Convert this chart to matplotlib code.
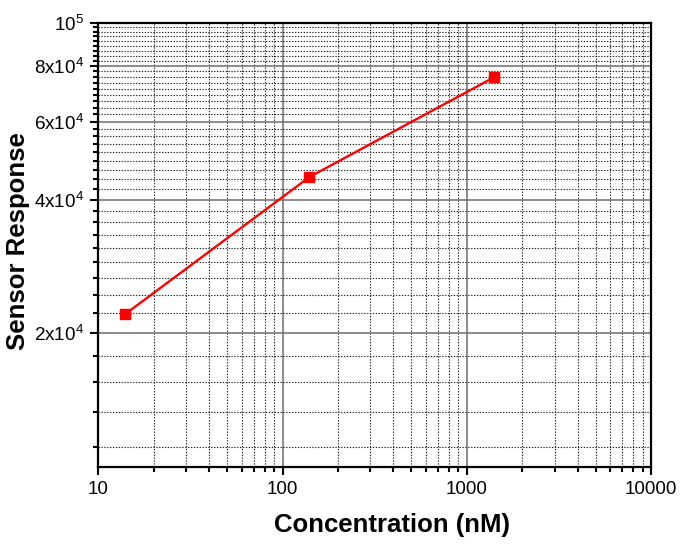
import matplotlib
matplotlib.use("Agg")
import matplotlib.pyplot as plt
from matplotlib.ticker import FixedLocator, MultipleLocator, FuncFormatter, LogLocator, NullFormatter

# data
conc_nM = [14, 140, 1400]
response = [22100, 45000, 75400]

x_ticks = [10, 100, 1000, 10000]
x_tick_labels = ["10", "100", "1000", "10000"]
y_tick_labels = {20000: r"$\mathregular{2x10^4}$", 40000: r"$\mathregular{4x10^4}$",
                 60000: r"$\mathregular{6x10^4}$", 80000: r"$\mathregular{8x10^4}$",
                 100000: r"$\mathregular{10^5}$"}

plt.rcParams["font.family"] = ["Liberation Sans", "DejaVu Sans"]
plt.rcParams["mathtext.fontset"] = "custom"
plt.rcParams["mathtext.rm"] = "Liberation Sans"

fig = plt.figure(figsize=(6.85, 5.45), dpi=100)
ax = fig.add_axes([0.1435, 0.1431, 0.8069, 0.8147])

ax.plot(conc_nM, response, color="#ff0000", lw=1.7, marker="s", ms=7.2,
        mec="#ff0000", mfc="#ff0000", zorder=5, clip_on=False)

ax.set_xscale("log")
ax.set_yscale("log")
ax.set_xlim(10, 10000)
ax.set_ylim(10000, 100000)

ax.xaxis.set_major_locator(FixedLocator(x_ticks))
ax.xaxis.set_major_formatter(FuncFormatter(lambda v, p: x_tick_labels[x_ticks.index(round(v))] if round(v) in x_ticks else ""))
ax.xaxis.set_minor_locator(LogLocator(base=10, subs=range(2, 10)))
ax.xaxis.set_minor_formatter(NullFormatter())

ax.yaxis.set_major_locator(MultipleLocator(20000))
ax.yaxis.set_minor_locator(MultipleLocator(20000 / 9))
ax.yaxis.set_major_formatter(FuncFormatter(lambda v, p: y_tick_labels.get(int(round(v)), "")))
ax.yaxis.set_minor_formatter(NullFormatter())

ax.grid(which="major", color="#6e6e6e", lw=1.1, ls="-", zorder=1)
ax.grid(which="minor", color="#222222", lw=0.8, ls=(0, (1.2, 1.4)), zorder=1)

for s in ax.spines.values():
    s.set_linewidth(1.6)
ax.tick_params(which="major", direction="out", length=6, width=1.5, labelsize=13.6, pad=4)
ax.tick_params(which="minor", direction="out", length=3.5, width=1.5)
ax.tick_params(top=False, right=False, which="both")

ax.set_xlabel("Concentration (nM)", fontsize=18.5, fontweight="bold")
ax.set_ylabel("Sensor Response", fontsize=18.5, fontweight="bold")
ax.xaxis.set_label_coords(0.532, -0.104)
ax.yaxis.set_label_coords(-0.123, 0.51)

fig.savefig("out.png", dpi=100)
